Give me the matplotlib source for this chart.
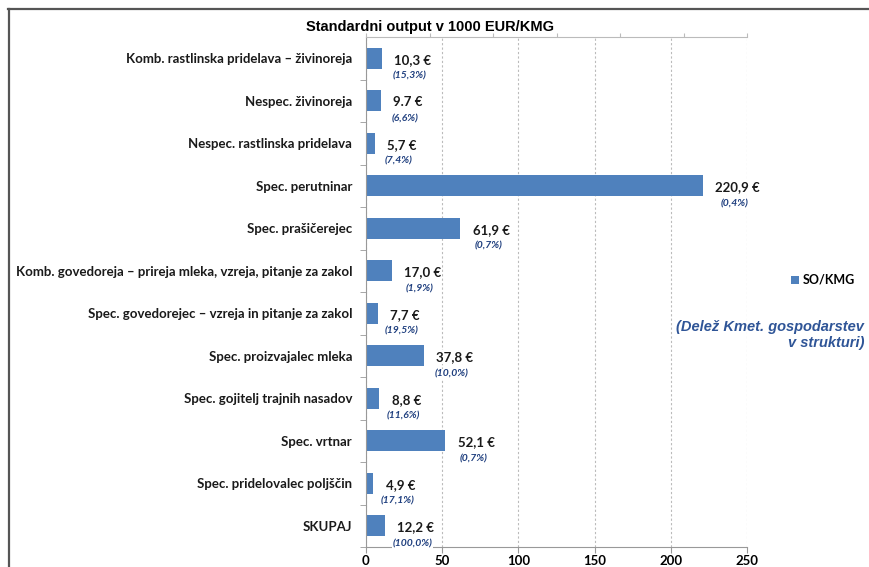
import matplotlib
matplotlib.use('Agg')
import matplotlib.pyplot as plt
from matplotlib.lines import Line2D
from matplotlib.ticker import FixedLocator

# podatki
kategorije = ['Komb. rastlinska pridelava – živinoreja', 'Nespec. živinoreja',
              'Nespec. rastlinska pridelava', 'Spec. perutninar', 'Spec. prašičerejec',
              'Komb. govedoreja – prireja mleka, vzreja, pitanje za zakol',
              'Spec. govedorejec – vzreja in pitanje za zakol', 'Spec. proizvajalec mleka',
              'Spec. gojitelj trajnih nasadov', 'Spec. vrtnar', 'Spec. pridelovalec poljščin',
              'SKUPAJ']
vrednosti = [10.3, 9.7, 5.7, 220.9, 61.9, 17.0, 7.7, 37.8, 8.8, 52.1, 4.9, 12.2]
oznake = ['10,3 €', '9.7 €', '5,7 €', '220,9 €', '61,9 €', '17,0 €', '7,7 €',
          '37,8 €', '8,8 €', '52,1 €', '4,9 €', '12,2 €']
delezi = ['(15,3%)', '(6,6%)', '(7,4%)', '(0,4%)', '(0,7%)', '(1,9%)', '(19,5%)',
          '(10,0%)', '(11,6%)', '(0,7%)', '(17,1%)', '(100,0%)']
x_ticks = [0, 50, 100, 150, 200, 250]

modra = '#4F81BD'
temno_modra = '#1F3F7F'
plt.rcParams['font.family'] = ['Lato', 'DejaVu Sans']

fig = plt.figure(figsize=(8.69, 5.67), dpi=100)
ax = fig.add_axes([366/869, 1-547/567, 381/869, 510/567])

y = list(range(len(kategorije)))
stolpci = ax.barh(y, vrednosti, height=0.5, color=modra, zorder=2, label='SO/KMG')
ax.set_ylim(len(kategorije)-0.5, -0.5)
ax.set_xlim(0, 250)
ax.set_yticks(y)
ax.set_yticklabels(kategorije, fontsize=9.5, fontweight='bold', color='#1a1a1a')
ax.tick_params(axis='y', which='major', length=0, pad=10)
ax.yaxis.set_minor_locator(FixedLocator([i + 0.5 for i in range(len(kategorije))]))
ax.tick_params(axis='y', which='minor', length=4, color='#999999')
ax.set_xticks(x_ticks)
ax.set_xticklabels([str(t) for t in x_ticks], fontsize=9.5, fontweight='bold')
ax.tick_params(axis='x', length=4, color='#999999', pad=2)
ax.grid(axis='x', linestyle=(0, (2, 2)), color='#BBBBBB', linewidth=0.8)
ax.set_axisbelow(True)
for s in ['top', 'right']:
    ax.spines[s].set_visible(False)
for s in ['left', 'bottom']:
    ax.spines[s].set_color('#999999')

# zgornja pomozna os
ax2 = ax.twiny()
ax2.set_xlim(0, 6)
ax2.set_xticks(range(7))
ax2.set_xticklabels([])
ax2.tick_params(axis='x', length=3, color='#BBBBBB')
for s in ['left', 'right', 'bottom']:
    ax2.spines[s].set_visible(False)
ax2.spines['top'].set_color('#BBBBBB')

# oznake vrednosti in delezev
vrednostni = []
for i, v in enumerate(vrednosti):
    t = ax.annotate(oznake[i], (v, i), xytext=(9, -1), textcoords='offset points',
                    ha='left', va='center', fontsize=9.5, fontweight='bold', color='#1a1a1a',
                    bbox=dict(fc='white', ec='none', pad=0.5), zorder=3)
    vrednostni.append(t)
fig.canvas.draw()
r = fig.canvas.get_renderer()
for i, t in enumerate(vrednostni):
    bb = t.get_window_extent(r)
    xc = ax.transData.inverted().transform(((bb.x0 + bb.x1)/2 - 3, 0))[0]
    ax.annotate(delezi[i], (xc, i), xytext=(0, -13), textcoords='offset points',
                ha='center', va='center', fontsize=7.5, fontweight='bold', style='italic',
                color=temno_modra, bbox=dict(fc='white', ec='none', pad=0.5), zorder=3)

fig.text(430/869, 1-27/567, 'Standardni output v 1000 EUR/KMG', ha='center', va='center',
         fontsize=10.5, fontweight='bold', family=['Liberation Sans Narrow', 'Liberation Sans'])

fig.legend(handles=[stolpci], loc='center left', bbox_to_anchor=(780/869, 1-280/567),
           frameon=False, handlelength=0.6, handleheight=0.6, handletextpad=0.3,
           prop=dict(size=9, weight='bold'))

fig.text(864/869, 1-335/567, '(Delež Kmet. gospodarstev\nv strukturi)', ha='right', va='center',
         fontsize=10.5, fontweight='bold', style='italic', color='#2F5597',
         family=['Liberation Sans', 'DejaVu Sans'], linespacing=1.2)

# okvir
fig.add_artist(Line2D([8.5/869, 8.5/869], [0, 1-9/567], color='#555555', lw=1.6))
fig.add_artist(Line2D([8/869, 1], [1-9/567, 1-9/567], color='#555555', lw=1.6))

fig.savefig('out.png', dpi=100)
